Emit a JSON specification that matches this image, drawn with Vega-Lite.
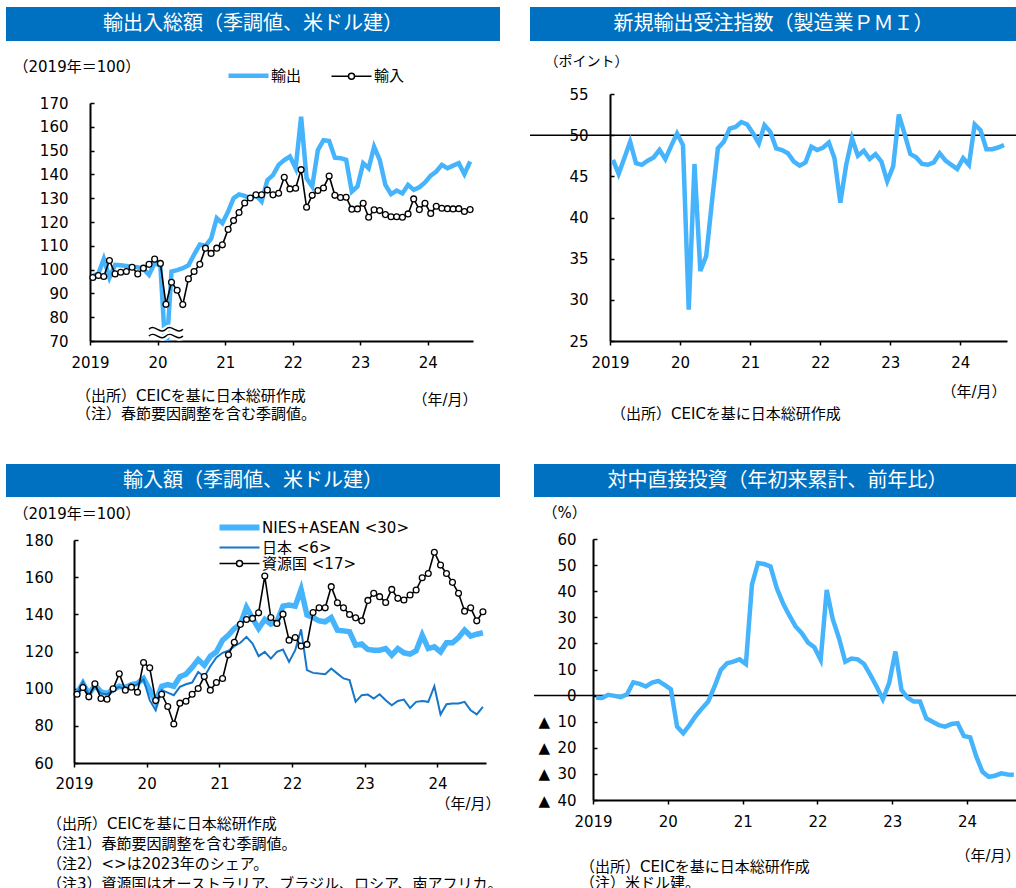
{
  "$schema": "https://vega.github.io/schema/vega-lite/v6.json",
  "background": "white",
  "padding": {"left": 6, "top": 7, "right": 0, "bottom": 0},
  "config": {
    "font": "DejaVu Sans, Noto Sans CJK JP",
    "view": {"stroke": null},
    "axis": {"domainColor": "black", "domainWidth": 2, "tickColor": "black", "tickWidth": 1.5, "labelColor": "black", "labelFontSize": 15, "grid": false, "titleColor": "black", "titleFontWeight": "normal", "titleFontSize": 15, "labelFlush": false, "labelOverlap": false},
    "title": {"fontWeight": "normal", "color": "black"},
    "legend": {"labelColor": "black", "labelFontSize": 15, "padding": 0}
  },
  "resolve": {"scale": {"color": "independent"}, "legend": {"color": "independent"}},
  "datasets": {
    "d": [
      {"m":"2019-01","exp":97.6,"imp":96.7,"pmi":47.0,"nies":97.4,"jp":97.4,"res":97.0,"fdi":-0.8},
      {"m":"2019-02","exp":98.2,"imp":97.5,"pmi":45.3,"nies":102.8,"jp":103.7,"res":100.6,"fdi":-0.9},
      {"m":"2019-03","exp":104.5,"imp":97.1,"pmi":47.2,"nies":97.0,"jp":96.5,"res":95.6,"fdi":0.3},
      {"m":"2019-04","exp":96.6,"imp":103.8,"pmi":49.2,"nies":101.9,"jp":101.3,"res":102.6,"fdi":-0.1},
      {"m":"2019-05","exp":102.0,"imp":98.2,"pmi":46.6,"nies":98.3,"jp":97.4,"res":94.7,"fdi":-0.6},
      {"m":"2019-06","exp":101.8,"imp":98.9,"pmi":46.4,"nies":97.4,"jp":97.0,"res":94.3,"fdi":0.5},
      {"m":"2019-07","exp":101.5,"imp":99.2,"pmi":46.9,"nies":99.5,"jp":99.2,"res":99.9,"fdi":5.1},
      {"m":"2019-08","exp":101.2,"imp":101.0,"pmi":47.3,"nies":101.3,"jp":101.0,"res":108.0,"fdi":4.5},
      {"m":"2019-09","exp":101.0,"imp":98.2,"pmi":48.2,"nies":100.6,"jp":99.5,"res":99.2,"fdi":3.5},
      {"m":"2019-10","exp":100.3,"imp":100.6,"pmi":47.1,"nies":102.2,"jp":101.0,"res":100.8,"fdi":5.0},
      {"m":"2019-11","exp":97.8,"imp":102.2,"pmi":48.7,"nies":102.8,"jp":102.4,"res":98.1,"fdi":5.6},
      {"m":"2019-12","exp":102.8,"imp":104.4,"pmi":50.2,"nies":105.5,"jp":105.1,"res":114.1,"fdi":4.1},
      {"m":"2020-01","exp":101.6,"imp":102.6,"pmi":48.8,"nies":99.2,"jp":93.8,"res":111.2,"fdi":2.4},
      {"m":"2020-02","exp":62.0,"imp":85.4,"pmi":28.8,"nies":92.9,"jp":88.4,"res":93.6,"fdi":-11.9},
      {"m":"2020-03","exp":99.2,"imp":94.7,"pmi":46.5,"nies":101.3,"jp":99.2,"res":97.0,"fdi":-14.4},
      {"m":"2020-04","exp":99.8,"imp":91.3,"pmi":33.5,"nies":102.2,"jp":97.9,"res":90.4,"fdi":-11.3},
      {"m":"2020-05","exp":100.6,"imp":85.3,"pmi":35.3,"nies":101.3,"jp":96.5,"res":81.0,"fdi":-7.8},
      {"m":"2020-06","exp":101.8,"imp":96.1,"pmi":42.0,"nies":106.4,"jp":101.0,"res":92.2,"fdi":-4.9},
      {"m":"2020-07","exp":106.3,"imp":99.2,"pmi":48.4,"nies":107.8,"jp":102.4,"res":93.2,"fdi":-2.3},
      {"m":"2020-08","exp":110.5,"imp":102.2,"pmi":49.2,"nies":111.4,"jp":103.3,"res":97.0,"fdi":3.5},
      {"m":"2020-09","exp":110.0,"imp":109.0,"pmi":50.8,"nies":115.7,"jp":109.0,"res":100.1,"fdi":9.8},
      {"m":"2020-10","exp":113.0,"imp":106.8,"pmi":51.0,"nies":112.6,"jp":106.4,"res":106.5,"fdi":12.4},
      {"m":"2020-11","exp":121.6,"imp":109.0,"pmi":51.6,"nies":117.5,"jp":112.1,"res":99.2,"fdi":13.0},
      {"m":"2020-12","exp":119.5,"imp":110.4,"pmi":51.3,"nies":119.8,"jp":116.8,"res":103.3,"fdi":13.9},
      {"m":"2021-01","exp":124.4,"imp":116.9,"pmi":50.2,"nies":126.1,"jp":119.3,"res":105.5,"fdi":12.1},
      {"m":"2021-02","exp":130.0,"imp":120.6,"pmi":49.0,"nies":128.8,"jp":120.4,"res":118.2,"fdi":42.5},
      {"m":"2021-03","exp":131.6,"imp":124.0,"pmi":51.2,"nies":132.4,"jp":122.9,"res":125.0,"fdi":50.8},
      {"m":"2021-04","exp":131.0,"imp":128.0,"pmi":50.4,"nies":134.7,"jp":124.7,"res":134.6,"fdi":50.4},
      {"m":"2021-05","exp":130.0,"imp":130.1,"pmi":48.4,"nies":143.7,"jp":127.9,"res":137.2,"fdi":49.5},
      {"m":"2021-06","exp":131.2,"imp":131.4,"pmi":48.2,"nies":137.8,"jp":124.3,"res":137.8,"fdi":41.2},
      {"m":"2021-07","exp":128.6,"imp":131.4,"pmi":47.8,"nies":132.4,"jp":117.5,"res":140.8,"fdi":35.4},
      {"m":"2021-08","exp":137.6,"imp":133.4,"pmi":46.8,"nies":137.2,"jp":119.8,"res":160.6,"fdi":30.7},
      {"m":"2021-09","exp":139.7,"imp":131.4,"pmi":46.3,"nies":134.7,"jp":116.2,"res":138.3,"fdi":26.5},
      {"m":"2021-10","exp":144.0,"imp":132.1,"pmi":46.7,"nies":136.0,"jp":119.8,"res":135.1,"fdi":23.9},
      {"m":"2021-11","exp":146.0,"imp":138.8,"pmi":48.6,"nies":144.4,"jp":121.1,"res":140.1,"fdi":20.3},
      {"m":"2021-12","exp":147.5,"imp":133.9,"pmi":48.2,"nies":145.0,"jp":114.4,"res":126.1,"fdi":18.5},
      {"m":"2022-01","exp":142.6,"imp":134.2,"pmi":48.5,"nies":144.4,"jp":120.7,"res":127.5,"fdi":13.7},
      {"m":"2022-02","exp":164.2,"imp":142.0,"pmi":49.1,"nies":153.4,"jp":131.9,"res":122.9,"fdi":40.5},
      {"m":"2022-03","exp":138.4,"imp":126.2,"pmi":47.2,"nies":139.6,"jp":110.0,"res":123.8,"fdi":29.3},
      {"m":"2022-04","exp":134.9,"imp":131.2,"pmi":41.8,"nies":138.3,"jp":108.5,"res":141.0,"fdi":22.0},
      {"m":"2022-05","exp":150.2,"imp":133.2,"pmi":46.4,"nies":136.5,"jp":108.1,"res":143.5,"fdi":13.0},
      {"m":"2022-06","exp":154.4,"imp":134.3,"pmi":49.6,"nies":136.0,"jp":107.8,"res":143.5,"fdi":14.2},
      {"m":"2022-07","exp":154.0,"imp":139.3,"pmi":47.5,"nies":138.3,"jp":110.8,"res":154.9,"fdi":13.9},
      {"m":"2022-08","exp":147.0,"imp":131.2,"pmi":48.1,"nies":131.5,"jp":108.1,"res":146.2,"fdi":12.1},
      {"m":"2022-09","exp":146.8,"imp":130.3,"pmi":47.1,"nies":131.1,"jp":105.5,"res":143.5,"fdi":7.9},
      {"m":"2022-10","exp":146.1,"imp":130.4,"pmi":47.7,"nies":130.6,"jp":104.6,"res":139.9,"fdi":3.5},
      {"m":"2022-11","exp":132.8,"imp":125.4,"pmi":46.8,"nies":123.4,"jp":92.9,"res":138.1,"fdi":-1.4},
      {"m":"2022-12","exp":134.9,"imp":125.5,"pmi":44.4,"nies":124.0,"jp":96.5,"res":136.5,"fdi":4.7},
      {"m":"2023-01","exp":144.7,"imp":127.9,"pmi":46.2,"nies":121.1,"jp":96.8,"res":147.5,"fdi":16.9},
      {"m":"2023-02","exp":142.6,"imp":122.0,"pmi":52.5,"nies":120.7,"jp":94.7,"res":151.3,"fdi":2.2},
      {"m":"2023-03","exp":151.6,"imp":125.1,"pmi":50.2,"nies":120.7,"jp":97.0,"res":149.5,"fdi":-0.8},
      {"m":"2023-04","exp":146.1,"imp":124.8,"pmi":47.7,"nies":121.6,"jp":93.8,"res":146.4,"fdi":-2.3},
      {"m":"2023-05","exp":135.6,"imp":123.1,"pmi":47.3,"nies":118.0,"jp":91.1,"res":153.4,"fdi":-2.3},
      {"m":"2023-06","exp":131.7,"imp":122.2,"pmi":46.5,"nies":121.6,"jp":93.4,"res":148.6,"fdi":-8.7},
      {"m":"2023-07","exp":133.2,"imp":122.2,"pmi":46.4,"nies":119.3,"jp":94.1,"res":147.7,"fdi":-10.0},
      {"m":"2023-08","exp":132.0,"imp":122.0,"pmi":46.7,"nies":118.6,"jp":89.6,"res":150.4,"fdi":-11.3},
      {"m":"2023-09","exp":135.6,"imp":123.4,"pmi":47.8,"nies":120.4,"jp":92.9,"res":153.1,"fdi":-11.9},
      {"m":"2023-10","exp":133.5,"imp":129.7,"pmi":46.9,"nies":128.8,"jp":93.4,"res":159.7,"fdi":-10.9},
      {"m":"2023-11","exp":134.6,"imp":125.2,"pmi":46.4,"nies":121.6,"jp":92.9,"res":162.0,"fdi":-10.6},
      {"m":"2023-12","exp":136.6,"imp":127.9,"pmi":45.9,"nies":122.5,"jp":101.3,"res":173.4,"fdi":-15.5},
      {"m":"2024-01","exp":139.5,"imp":123.6,"pmi":47.2,"nies":119.8,"jp":86.1,"res":166.5,"fdi":-16.0},
      {"m":"2024-02","exp":141.2,"imp":126.6,"pmi":46.4,"nies":124.7,"jp":91.6,"res":162.0,"fdi":-23.4},
      {"m":"2024-03","exp":144.0,"imp":125.8,"pmi":51.3,"nies":124.7,"jp":92.0,"res":157.2,"fdi":-29.2},
      {"m":"2024-04","exp":142.6,"imp":125.6,"pmi":50.6,"nies":127.5,"jp":92.0,"res":151.3,"fdi":-31.1},
      {"m":"2024-05","exp":143.7,"imp":125.5,"pmi":48.3,"nies":131.5,"jp":92.9,"res":141.7,"fdi":-30.7},
      {"m":"2024-06","exp":144.7,"imp":125.6,"pmi":48.3,"nies":128.3,"jp":88.4,"res":143.5,"fdi":-29.8},
      {"m":"2024-07","exp":140.1,"imp":124.4,"pmi":48.5,"nies":129.3,"jp":86.2,"res":136.5,"fdi":-30.2},
      {"m":"2024-08","exp":145.4,"imp":125.2,"pmi":48.8,"nies":130.1,"jp":90.2,"res":141.4,"fdi":-30.3}
    ]
  },
  "vconcat": [
    {
      "resolve": {"scale": {"color": "independent"}, "legend": {"color": "independent"}},
      "hconcat": [
        {
          "resolve": {"scale": {"color": "independent"}, "legend": {"color": "independent"}},
          "concat": [
            {
              "width": 494, "height": 34,
              "data": {"values": [{}]},
              "view": {"fill": "#0070C0"},
              "mark": {"type": "text", "color": "white", "fontSize": 20, "font": "Noto Sans CJK JP"},
              "encoding": {"text": {"value": "輸出入総額（季調値、米ドル建）"}}
            },
            {
              "width": 494, "height": 238,
              "data": {"name": "d"},
              "title": {"text": ["（出所）CEICを基に日本総研作成", "（注）春節要因調整を含む季調値。"], "orient": "bottom", "anchor": "start", "frame": "group", "fontSize": 15, "lineHeight": 18, "dx": 70, "dy": -18, "offset": 0},
              "encoding": {
                "x": {"field": "m", "type": "temporal", "timeUnit": "utcyearmonth", "bandPosition": 0.5,
                  "scale": {"type": "utc", "range": [84, 467], "domain": [{"year": 2019, "month": 1, "date": 1, "utc": true}, {"year": 2024, "month": 9, "date": 1, "utc": true}]},
                  "axis": {"values": [{"year": 2019, "month": 1, "date": 1, "utc": true}, {"year": 2020, "month": 1, "date": 1, "utc": true}, {"year": 2021, "month": 1, "date": 1, "utc": true}, {"year": 2022, "month": 1, "date": 1, "utc": true}, {"year": 2023, "month": 1, "date": 1, "utc": true}, {"year": 2024, "month": 1, "date": 1, "utc": true}],
                    "labelExpr": "utcyear(datum.value) == 2019 ? '2019' : utcFormat(datum.value, '%y')",
                    "tickSize": 4, "labelPadding": 10, "title": "（年/月）", "titleX": 471, "titleY": 58, "titleAlign": "right", "titleBaseline": "middle"}
                },
                "y": {"field": "exp", "type": "quantitative", "title": "（2019年＝100）", "scale": {"domain": [70, 170]},
                  "axis": {"values": [70, 80, 90, 100, 110, 120, 130, 140, 150, 160, 170], "offset": -84, "tickSize": -4, "labelPadding": 26, "titleAngle": 0, "titleAlign": "left", "titleBaseline": "middle", "titleX": -77, "titleY": -37}}
              },
              "layer": [
                {
                  "mark": {"type": "line", "strokeWidth": 4.5, "clip": true},
                  "encoding": {
                    "color": {"datum": "輸出", "type": "nominal", "scale": {"domain": ["輸出", "輸入"], "range": ["#45B4FC", "black"]},
                      "legend": {"orient": "none", "legendX": 247, "legendY": -35, "direction": "horizontal", "title": null, "labelOffset": 3, "symbolSize": 256, "columnPadding": 26,
                        "encode": {"symbols": {"update": {
                          "shape": {"signal": "datum.value == '輸入' ? 'M-4,0H-1.875M-1.125,0H1M-1.125,0A0.375,0.375 0 1 1 -1.875,0A0.375,0.375 0 1 1 -1.125,0Z' : 'M-4,0H1'"},
                          "strokeWidth": {"signal": "datum.value == '輸入' ? 1.5 : 4.5"},
                          "fill": {"value": "white"}, "opacity": {"value": 1}}}}}}
                  }
                },
                {
                  "mark": {"type": "line", "strokeWidth": 1.6},
                  "encoding": {
                    "y": {"field": "imp", "type": "quantitative", "title": "（2019年＝100）", "scale": {"domain": [70, 170]},
                      "axis": {"values": [70, 80, 90, 100, 110, 120, 130, 140, 150, 160, 170], "offset": -84, "tickSize": -4, "labelPadding": 26, "titleAngle": 0, "titleAlign": "left", "titleBaseline": "middle", "titleX": -77, "titleY": -37}},
                    "color": {"datum": "輸入", "type": "nominal"}
                  }
                },
                {
                  "mark": {"type": "point", "shape": "circle", "filled": true, "fill": "white", "stroke": "black", "strokeWidth": 1.3, "size": 34, "opacity": 1},
                  "encoding": {"y": {"field": "imp", "type": "quantitative", "title": "（2019年＝100）", "scale": {"domain": [70, 170]},
                      "axis": {"values": [70, 80, 90, 100, 110, 120, 130, 140, 150, 160, 170], "offset": -84, "tickSize": -4, "labelPadding": 26, "titleAngle": 0, "titleAlign": "left", "titleBaseline": "middle", "titleX": -77, "titleY": -37}}}
                },
                {
                  "transform": [{"filter": {"field": "m", "timeUnit": "utcyearmonth", "equal": {"year": 2020, "month": 2, "utc": true}}}],
                  "mark": {"type": "point", "shape": "M-1,-0.2C-0.67,-0.55 -0.33,0.15 0,-0.2C0.33,-0.55 0.67,0.15 1,-0.2M-1,0.2C-0.67,-0.15 -0.33,0.55 0,0.2C0.33,-0.15 0.67,0.55 1,0.2", "filled": false, "fill": null, "stroke": "white", "strokeWidth": 6, "size": 1156, "opacity": 1},
                  "encoding": {
                    "y": {"datum": 73.5, "type": "quantitative", "title": "（2019年＝100）", "scale": {"domain": [70, 170]},
                      "axis": {"values": [70, 80, 90, 100, 110, 120, 130, 140, 150, 160, 170], "offset": -84, "tickSize": -4, "labelPadding": 26, "titleAngle": 0, "titleAlign": "left", "titleBaseline": "middle", "titleX": -77, "titleY": -37}}
                  }
                },
                {
                  "transform": [{"filter": {"field": "m", "timeUnit": "utcyearmonth", "equal": {"year": 2020, "month": 2, "utc": true}}}],
                  "mark": {"type": "point", "shape": "M-1,-0.2C-0.67,-0.55 -0.33,0.15 0,-0.2C0.33,-0.55 0.67,0.15 1,-0.2M-1,0.2C-0.67,-0.15 -0.33,0.55 0,0.2C0.33,-0.15 0.67,0.55 1,0.2", "filled": false, "fill": null, "stroke": "black", "strokeWidth": 1.4, "size": 1156, "opacity": 1},
                  "encoding": {
                    "y": {"datum": 73.5, "type": "quantitative", "title": "（2019年＝100）", "scale": {"domain": [70, 170]},
                      "axis": {"values": [70, 80, 90, 100, 110, 120, 130, 140, 150, 160, 170], "offset": -84, "tickSize": -4, "labelPadding": 26, "titleAngle": 0, "titleAlign": "left", "titleBaseline": "middle", "titleX": -77, "titleY": -37}}
                  }
                }
              ]
            }
          ],
          "columns": 1, "align": "none", "spacing": 18
        },
        {
          "concat": [
            {
              "width": 487, "height": 34,
              "data": {"values": [{}]},
              "view": {"fill": "#0070C0"},
              "mark": {"type": "text", "color": "white", "fontSize": 20, "font": "Noto Sans CJK JP"},
              "encoding": {"text": {"value": "新規輸出受注指数（製造業ＰＭＩ）"}}
            },
            {
              "width": 487, "height": 247,
              "title": {"text": ["（出所）CEICを基に日本総研作成"], "orient": "bottom", "anchor": "start", "frame": "group", "fontSize": 15, "lineHeight": 18, "dx": 81, "dy": 8, "offset": 0},
              "layer": [
                {
                  "data": {"values": [{}]},
                  "mark": {"type": "rule", "color": "black", "strokeWidth": 1.5},
                  "encoding": {"y": {"datum": 50, "type": "quantitative", "title": "（ポイント）", "scale": {"domain": [25, 55]},
                    "axis": {"values": [25, 30, 35, 40, 45, 50, 55], "offset": -80, "tickSize": -4, "labelPadding": 26, "titleAngle": 0, "titleAlign": "left", "titleBaseline": "middle", "titleX": -66, "titleY": -33, "titleFontSize": 14}}}
                },
                {
                  "data": {"name": "d"},
                  "mark": {"type": "line", "strokeWidth": 4.5, "color": "#45B4FC"},
                  "encoding": {
                    "x": {"field": "m", "type": "temporal", "timeUnit": "utcyearmonth", "bandPosition": 0.5,
                      "scale": {"type": "utc", "range": [80, 477], "domain": [{"year": 2019, "month": 1, "date": 1, "utc": true}, {"year": 2024, "month": 9, "date": 1, "utc": true}]},
                      "axis": {"values": [{"year": 2019, "month": 1, "date": 1, "utc": true}, {"year": 2020, "month": 1, "date": 1, "utc": true}, {"year": 2021, "month": 1, "date": 1, "utc": true}, {"year": 2022, "month": 1, "date": 1, "utc": true}, {"year": 2023, "month": 1, "date": 1, "utc": true}, {"year": 2024, "month": 1, "date": 1, "utc": true}],
                        "labelExpr": "utcyear(datum.value) == 2019 ? '2019' : utcFormat(datum.value, '%y')",
                        "tickSize": 4, "labelPadding": 10, "title": "（年/月）", "titleX": 476, "titleY": 50, "titleAlign": "right", "titleBaseline": "middle"}},
                    "y": {"field": "pmi", "type": "quantitative", "title": "（ポイント）", "scale": {"domain": [25, 55]},
                      "axis": {"values": [25, 30, 35, 40, 45, 50, 55], "offset": -80, "tickSize": -4, "labelPadding": 26, "titleAngle": 0, "titleAlign": "left", "titleBaseline": "middle", "titleX": -66, "titleY": -33, "titleFontSize": 14}}
                  }
                }
              ]
            }
          ],
          "columns": 1, "align": "none", "spacing": 13
        }
      ],
      "spacing": 29
    },
    {
      "resolve": {"scale": {"color": "independent"}, "legend": {"color": "independent"}},
      "hconcat": [
        {
          "resolve": {"scale": {"color": "independent"}, "legend": {"color": "independent"}},
          "concat": [
            {
              "width": 494, "height": 33,
              "data": {"values": [{}]},
              "view": {"fill": "#0070C0"},
              "mark": {"type": "text", "color": "white", "fontSize": 20, "font": "Noto Sans CJK JP"},
              "encoding": {"text": {"value": "輸入額（季調値、米ドル建）"}}
            },
            {
              "width": 494, "height": 223,
              "data": {"name": "d"},
              "title": {"text": ["（出所）CEICを基に日本総研作成", "（注1）春節要因調整を含む季調値。", "（注2）<>は2023年のシェア。", "（注3）資源国はオーストラリア、ブラジル、ロシア、南アフリカ。"], "orient": "bottom", "anchor": "start", "frame": "group", "fontSize": 15, "lineHeight": 20, "dx": 41, "dy": 6, "offset": 0},
              "encoding": {
                "x": {"field": "m", "type": "temporal", "timeUnit": "utcyearmonth", "bandPosition": 0.5,
                  "scale": {"type": "utc", "range": [68, 480], "domain": [{"year": 2019, "month": 1, "date": 1, "utc": true}, {"year": 2024, "month": 9, "date": 1, "utc": true}]},
                  "axis": {"values": [{"year": 2019, "month": 1, "date": 1, "utc": true}, {"year": 2020, "month": 1, "date": 1, "utc": true}, {"year": 2021, "month": 1, "date": 1, "utc": true}, {"year": 2022, "month": 1, "date": 1, "utc": true}, {"year": 2023, "month": 1, "date": 1, "utc": true}, {"year": 2024, "month": 1, "date": 1, "utc": true}],
                    "labelExpr": "utcyear(datum.value) == 2019 ? '2019' : utcFormat(datum.value, '%y')",
                    "tickSize": 4, "labelPadding": 9, "title": "（年/月）", "titleX": 494, "titleY": 40, "titleAlign": "right", "titleBaseline": "middle"}
                }
              },
              "layer": [
                {
                  "mark": {"type": "line", "strokeWidth": 5.5},
                  "encoding": {
                    "y": {"field": "nies", "type": "quantitative", "title": "（2019年＝100）", "scale": {"domain": [60, 180]},
                      "axis": {"values": [60, 80, 100, 120, 140, 160, 180], "offset": -68, "tickSize": -4, "labelPadding": 25, "titleAngle": 0, "titleAlign": "left", "titleBaseline": "middle", "titleX": -61, "titleY": -27}},
                    "color": {"datum": "NIES+ASEAN <30>", "type": "nominal", "scale": {"domain": ["NIES+ASEAN <30>", "日本 <6>", "資源国 <17>"], "range": ["#45B4FC", "#1677C9", "black"]},
                      "legend": {"orient": "none", "legendX": 238, "legendY": -20, "direction": "vertical", "title": null, "labelOffset": 3, "symbolSize": 256, "rowPadding": -2,
                        "encode": {"symbols": {"update": {
                          "shape": {"signal": "datum.value == '資源国 <17>' ? 'M-4,0H-1.875M-1.125,0H1M-1.125,0A0.375,0.375 0 1 1 -1.875,0A0.375,0.375 0 1 1 -1.125,0Z' : 'M-4,0H1'"},
                          "strokeWidth": {"signal": "datum.value == 'NIES+ASEAN <30>' ? 6 : (datum.value == '日本 <6>' ? 2 : 1.5)"},
                          "fill": {"value": "white"}, "opacity": {"value": 1}}}}}}
                  }
                },
                {
                  "mark": {"type": "line", "strokeWidth": 2},
                  "encoding": {
                    "y": {"field": "jp", "type": "quantitative", "title": "（2019年＝100）", "scale": {"domain": [60, 180]},
                      "axis": {"values": [60, 80, 100, 120, 140, 160, 180], "offset": -68, "tickSize": -4, "labelPadding": 25, "titleAngle": 0, "titleAlign": "left", "titleBaseline": "middle", "titleX": -61, "titleY": -27}},
                    "color": {"datum": "日本 <6>", "type": "nominal"}
                  }
                },
                {
                  "mark": {"type": "line", "strokeWidth": 1.6},
                  "encoding": {
                    "y": {"field": "res", "type": "quantitative", "title": "（2019年＝100）", "scale": {"domain": [60, 180]},
                      "axis": {"values": [60, 80, 100, 120, 140, 160, 180], "offset": -68, "tickSize": -4, "labelPadding": 25, "titleAngle": 0, "titleAlign": "left", "titleBaseline": "middle", "titleX": -61, "titleY": -27}},
                    "color": {"datum": "資源国 <17>", "type": "nominal"}
                  }
                },
                {
                  "mark": {"type": "point", "shape": "circle", "filled": true, "fill": "white", "stroke": "black", "strokeWidth": 1.3, "size": 34, "opacity": 1},
                  "encoding": {"y": {"field": "res", "type": "quantitative", "title": "（2019年＝100）", "scale": {"domain": [60, 180]},
                      "axis": {"values": [60, 80, 100, 120, 140, 160, 180], "offset": -68, "tickSize": -4, "labelPadding": 25, "titleAngle": 0, "titleAlign": "left", "titleBaseline": "middle", "titleX": -61, "titleY": -27}}}
                }
              ]
            }
          ],
          "columns": 1, "align": "none", "spacing": 9
        },
        {
          "concat": [
            {
              "width": 487, "height": 33,
              "data": {"values": [{}]},
              "view": {"fill": "#0070C0"},
              "mark": {"type": "text", "color": "white", "fontSize": 20, "font": "Noto Sans CJK JP"},
              "encoding": {"text": {"value": "対中直接投資（年初来累計、前年比）"}}
            },
            {
              "width": 487, "height": 261,
              "title": {"text": ["（出所）CEICを基に日本総研作成", "（注）米ドル建。"], "orient": "bottom", "anchor": "start", "frame": "group", "fontSize": 15, "lineHeight": 16, "dx": 46, "dy": -3, "offset": 0},
              "layer": [
                {
                  "data": {"values": [{}]},
                  "mark": {"type": "rule", "color": "black", "strokeWidth": 1.5},
                  "encoding": {"y": {"datum": 0, "type": "quantitative", "title": "（%）", "scale": {"domain": [-40, 60]},
                    "axis": {"values": [-40, -30, -20, -10, 0, 10, 20, 30, 40, 50, 60], "labelExpr": "datum.value < 0 ? '▲\u2002' + (-datum.value) : '' + datum.value", "offset": -59, "tickSize": -4, "labelPadding": 21, "titleAngle": 0, "titleAlign": "left", "titleBaseline": "middle", "titleX": -51, "titleY": -27}}}
                },
                {
                  "data": {"name": "d"},
                  "mark": {"type": "line", "strokeWidth": 4.5, "color": "#45B4FC"},
                  "encoding": {
                    "x": {"field": "m", "type": "temporal", "timeUnit": "utcyearmonth", "bandPosition": 0.5,
                      "scale": {"type": "utc", "range": [59, 483], "domain": [{"year": 2019, "month": 1, "date": 1, "utc": true}, {"year": 2024, "month": 9, "date": 1, "utc": true}]},
                      "axis": {"values": [{"year": 2019, "month": 1, "date": 1, "utc": true}, {"year": 2020, "month": 1, "date": 1, "utc": true}, {"year": 2021, "month": 1, "date": 1, "utc": true}, {"year": 2022, "month": 1, "date": 1, "utc": true}, {"year": 2023, "month": 1, "date": 1, "utc": true}, {"year": 2024, "month": 1, "date": 1, "utc": true}],
                        "labelExpr": "utcyear(datum.value) == 2019 ? '2019' : utcFormat(datum.value, '%y')",
                        "tickSize": 4, "labelPadding": 10, "title": "（年/月）", "titleX": 486, "titleY": 55, "titleAlign": "right", "titleBaseline": "middle"}},
                    "y": {"field": "fdi", "type": "quantitative", "title": "（%）", "scale": {"domain": [-40, 60]},
                      "axis": {"values": [-40, -30, -20, -10, 0, 10, 20, 30, 40, 50, 60], "labelExpr": "datum.value < 0 ? '▲\u2002' + (-datum.value) : '' + datum.value", "offset": -59, "tickSize": -4, "labelPadding": 21, "titleAngle": 0, "titleAlign": "left", "titleBaseline": "middle", "titleX": -51, "titleY": -27}}
                  }
                }
              ]
            }
          ],
          "columns": 1, "align": "none", "spacing": 8
        }
      ],
      "spacing": 29
    }
  ],
  "spacing": 42
}
